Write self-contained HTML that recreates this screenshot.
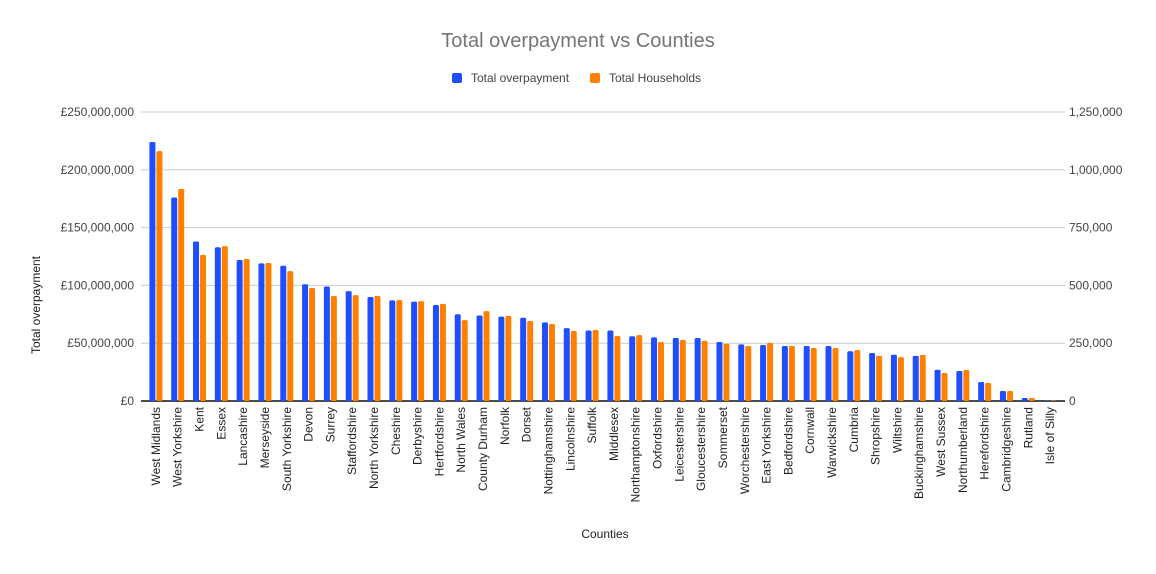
<!DOCTYPE html>
<html><head><meta charset="utf-8"><style>
body{margin:0;background:#fff;}
svg text{font-family:"Liberation Sans",Arial,sans-serif;}
</style></head><body>
<svg id="chart" width="1156" height="569" viewBox="0 0 1156 569" xmlns="http://www.w3.org/2000/svg">
<rect width="1156" height="569" fill="#fff"/>
<text x="578" y="47" text-anchor="middle" font-size="20" fill="#757575">Total overpayment vs Counties</text>
<g>
<g><rect x="452" y="73" width="10" height="10" rx="2" fill="#1f4eff"/><text x="471" y="82" font-size="12" fill="#444">Total overpayment</text></g>
<g><rect x="590" y="73" width="10" height="10" rx="2" fill="#ff8000"/><text x="609" y="82" font-size="12" fill="#444">Total Households</text></g>
</g>
<g id="grid"></g>
<g id="bars"></g>
<g id="xlabels"></g>
<g id="yl"></g>
<g id="yr"></g>
<text x="605" y="538" text-anchor="middle" font-size="12" fill="#222">Counties</text>
<text transform="translate(40,305) rotate(-90)" text-anchor="middle" font-size="12" fill="#222">Total overpayment</text>
</svg>
<script>
const categories=["West Midlands","West Yorkshire","Kent","Essex","Lancashire","Merseyside","South Yorkshire","Devon","Surrey","Staffordshire","North Yorkshire","Cheshire","Derbyshire","Hertfordshire","North Wales","County Durham","Norfolk","Dorset","Nottinghamshire","Lincolnshire","Suffolk","Middlesex","Northamptonshire","Oxfordshire","Leicestershire","Gloucestershire","Sommerset","Worchestershire","East Yorkshire","Bedfordshire","Cornwall","Warwickshire","Cumbria","Shropshire","Wiltshire","Buckinghamshire","West Sussex","Northumberland","Herefordshire","Cambridgeshire","Rutland","Isle of Silly"];
const overpayment=[224,176,138,133,122,119,117,101,99,95,90,87,86,83,75,74,73,72,68,63,61,61,56,55,54.5,54.5,51,49,48.4,47.6,47.6,47.6,43,41.5,40,39,27,26,16.4,8.7,2.6,0.3];
const households=[1081,917,632,670,614,597,562,489,454,458,454,437,432,420,350,389,368,346,333,303,307,281,285,255,264,260,247,238,251,238,229,229,220,195,190,199,121,134,78,43,13,1];
const leftTicks=["£0","£50,000,000","£100,000,000","£150,000,000","£200,000,000","£250,000,000"];
const rightTicks=["0","250,000","500,000","750,000","1,000,000","1,250,000"];
const NS="http://www.w3.org/2000/svg";
const y0=401,yTop=112,plotL=145,plotR=1061;
const band=(plotR-plotL)/categories.length;
const yL=v=>y0-(v/250)*(y0-yTop);
const yR=v=>y0-(v/1250)*(y0-yTop);
function mk(t,a,p){const e=document.createElementNS(NS,t);for(const k in a)e.setAttribute(k,a[k]);p.appendChild(e);return e;}
const grid=document.getElementById('grid'),bars=document.getElementById('bars'),xl=document.getElementById('xlabels'),yl=document.getElementById('yl'),yr=document.getElementById('yr');
leftTicks.forEach((t,i)=>{const y=yL(i*50);
 const g=mk('line',{x1:141,x2:1065,y1:y,y2:y,stroke:i==0?'#333':'#ccc','stroke-width':i==0?1.5:1},grid);
 
 
 const a=mk('text',{x:134,y:y+4,'text-anchor':'end','font-size':12,fill:'#444'},yl);a.textContent=t;
 
 
 const b=mk('text',{x:1069,y:yR(i*250)+4,'font-size':12,fill:'#444'},yr);b.textContent=rightTicks[i];
 
 
});
categories.forEach((c,i)=>{const cx=plotL+band*(i+0.5);
 const h1=Math.max(y0-yL(overpayment[i]),0.5),h2=Math.max(y0-yR(households[i]),0.5);
 const r1=mk('rect',{x:cx-6.5,y:y0-h1,width:6,height:h1,fill:'#1f4eff',rx:1.5},bars);
 
 
 const r2=mk('rect',{x:cx+0.5,y:y0-h2,width:6,height:h2,fill:'#ff8000',rx:1.5},bars);
 
 
 const t=mk('text',{transform:`translate(${cx+4},407) rotate(-90)`,'text-anchor':'end','font-size':12,fill:'#222'},xl);t.textContent=c;
 
 
});
mk('line',{x1:141,x2:1065,y1:y0,y2:y0,stroke:'#333','stroke-width':1.5},grid);
</script>
</body></html>
